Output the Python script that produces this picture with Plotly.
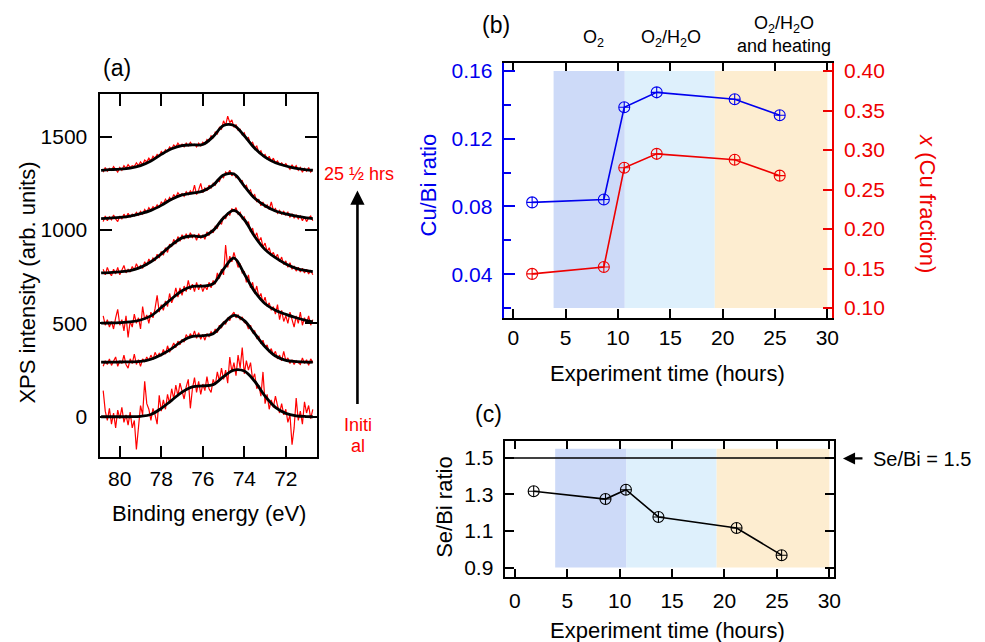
import plotly.graph_objects as go

W, H = 985, 642
FONT = "Liberation Sans, Arial, Helvetica, sans-serif"

# ---------------- Panel (a): XPS spectra ----------------
energy = [80.8, 80.7, 80.6, 80.5, 80.4, 80.3, 80.2, 80.1, 80.0,
          79.9, 79.8, 79.7, 79.6, 79.5, 79.4, 79.3, 79.2, 79.1, 79.0,
          78.9, 78.8, 78.7, 78.6, 78.5, 78.4, 78.3, 78.2, 78.1, 78.0,
          77.9, 77.8, 77.7, 77.6, 77.5, 77.4, 77.3, 77.2, 77.1, 77.0,
          76.9, 76.8, 76.7, 76.6, 76.5, 76.4, 76.3, 76.2, 76.1, 76.0,
          75.9, 75.8, 75.7, 75.6, 75.5, 75.4, 75.3, 75.2, 75.1, 75.0,
          74.9, 74.8, 74.7, 74.6, 74.5, 74.4, 74.3, 74.2, 74.1, 74.0,
          73.9, 73.8, 73.7, 73.6, 73.5, 73.4, 73.3, 73.2, 73.1, 73.0,
          72.9, 72.8, 72.7, 72.6, 72.5, 72.4, 72.3, 72.2, 72.1, 72.0,
          71.9, 71.8, 71.7, 71.6, 71.5, 71.4, 71.3, 71.2, 71.1, 71.0,
          70.9, 70.8, 70.7]

spec_initial = [140, 30, -20, 45, -40, 20, -60, 35, -10,
                50, -30, 10, -45, 25, -60, -20, -175, -40, 60,
                10, 190, 70, 40, -20, 45, 10, -40, 115, 30,
                90, 40, 120, 70, 150, 95, 170, 110, 180, 140,
                95, 160, 200, 45, 150, 210, 130, 190, 120, 175,
                140, 215, 150, 130, 200, 170, 240, 190, 260, 200,
                250, 180, 320, 240, 290, 220, 330, 260, 370, 230,
                300, 250, 290, 200, 230, 150, 170, 110, 240, 70,
                120, 40, 90, 50, 110, 60, 20, 70, 10, 40,
                -30, 10, -150, -60, 100, -20, 30, -40, 80, 20,
                60, -10, 40]
spec_2 = [270, 300, 280, 310, 275, 300, 320, 270, 300,
          285, 330, 280, 260, 310, 285, 335, 280, 305, 270,
          310, 295, 320, 300, 330, 305, 345, 320, 340, 325,
          360, 335, 380, 345, 370, 395, 370, 405, 385, 415,
          400, 440, 420, 445, 425, 460, 420, 450, 415, 440,
          410, 445, 430, 455, 440, 470, 450, 490, 475, 510,
          495, 530, 515, 545, 560, 530, 545, 520, 535, 505,
          500, 470, 490, 450, 460, 420, 430, 390, 410, 370,
          385, 345, 365, 330, 350, 310, 330, 300, 350, 300,
          315, 285, 305, 280, 300, 290, 280, 315, 285, 305,
          275, 310, 290]
spec_3 = [540, 490, 520, 480, 510, 470, 530, 575, 490,
          520, 460, 540, 425, 510, 480, 550, 500, 530, 470,
          590, 520, 545, 500, 560, 530, 580, 650, 560, 600,
          570, 620, 590, 660, 610, 640, 690, 640, 690, 650,
          700, 670, 730, 680, 710, 670, 720, 680, 710, 670,
          700, 680, 720, 690, 730, 710, 770, 740, 790, 760,
          920, 800, 860, 830, 880, 840, 800, 820, 770, 780,
          720, 760, 690, 720, 660, 700, 640, 660, 610, 640,
          590, 610, 570, 590, 550, 600, 520, 570, 510, 540,
          500, 560, 520, 480, 540, 500, 560, 490, 530, 500,
          540, 490, 520]
spec_4 = [790, 760, 800, 770, 755, 790, 765, 800, 760,
          785, 810, 770, 790, 775, 805, 785, 820, 795, 810,
          795, 830, 810, 845, 825, 850, 835, 870, 850, 885,
          865, 905, 880, 925, 910, 950, 925, 965, 940, 975,
          950, 980, 955, 985, 960, 975, 945, 980, 955, 975,
          950, 990, 970, 1000, 985, 1020, 1010, 1045, 1030, 1075,
          1060, 1090, 1080, 1115, 1100, 1120, 1085, 1095, 1060, 1070,
          1030, 1045, 990, 1010, 960, 985, 940, 960, 910, 930,
          885, 905, 865, 880, 850, 870, 830, 855, 815, 835,
          800, 825, 790, 805, 780, 800, 775, 795, 770, 790,
          765, 785, 760]
spec_5 = [1045, 1075, 1050, 1070, 1055, 1080, 1060, 1045, 1075,
          1060, 1085, 1065, 1090, 1070, 1085, 1075, 1095, 1080, 1100,
          1085, 1110, 1095, 1120, 1105, 1125, 1115, 1135, 1120, 1150,
          1140, 1165, 1150, 1175, 1160, 1190, 1175, 1200, 1185, 1195,
          1180, 1205, 1190, 1210, 1195, 1240, 1190, 1215, 1250, 1200,
          1225, 1210, 1240, 1225, 1250, 1240, 1270, 1260, 1290, 1280,
          1310, 1300, 1320, 1290, 1305, 1280, 1285, 1260, 1265, 1230,
          1240, 1205, 1215, 1180, 1190, 1150, 1165, 1130, 1150, 1120,
          1135, 1110, 1150, 1105, 1115, 1090, 1105, 1085, 1100, 1080,
          1095, 1070, 1085, 1065, 1080, 1060, 1075, 1050, 1070, 1045,
          1065, 1075, 1050]
spec_6 = [1310, 1335, 1315, 1330, 1320, 1340, 1325, 1310, 1335,
          1320, 1345, 1330, 1350, 1335, 1345, 1340, 1360, 1345, 1365,
          1350, 1375, 1365, 1385, 1370, 1395, 1385, 1405, 1395, 1420,
          1410, 1430, 1420, 1445, 1435, 1455, 1445, 1465, 1450, 1460,
          1445, 1465, 1450, 1470, 1455, 1460, 1445, 1465, 1450, 1470,
          1460, 1485, 1475, 1505, 1495, 1525, 1515, 1550, 1540, 1585,
          1560, 1610, 1575, 1590, 1550, 1565, 1535, 1540, 1510, 1520,
          1485, 1495, 1460, 1470, 1440, 1450, 1415, 1425, 1395, 1405,
          1380, 1395, 1365, 1385, 1360, 1370, 1350, 1360, 1345, 1355,
          1340, 1325, 1350, 1330, 1345, 1320, 1335, 1310, 1330, 1315,
          1335, 1310, 1325]

fit_energy = [80.9, 80.5, 80.0, 79.5, 79.0, 78.5, 78.0, 77.5, 77.0, 76.5, 76.0,
              75.5, 75.0, 74.5, 74.0, 73.5, 73.0, 72.5, 72.0, 71.5, 71.0, 70.7]
fit_initial = [0, 0, 0, 0, 2, 12, 45, 88, 132, 160, 165,
               172, 215, 250, 245, 190, 110, 50, 18, 5, 1, 0]
fit_2 = [292, 292, 293, 294, 296, 308, 332, 365, 405, 430, 434,
         445, 500, 543, 515, 445, 375, 325, 302, 295, 292, 292]
fit_3 = [501, 502, 504, 508, 518, 540, 585, 632, 675, 698, 700,
         712, 790, 850, 765, 670, 605, 570, 548, 530, 515, 508]
fit_4 = [770, 772, 776, 783, 800, 830, 872, 920, 958, 968, 966,
         998, 1065, 1105, 1055, 965, 895, 852, 818, 795, 782, 777]
fit_5 = [1061, 1064, 1068, 1075, 1088, 1105, 1132, 1165, 1188, 1198, 1208,
         1240, 1295, 1300, 1235, 1170, 1130, 1102, 1086, 1074, 1065, 1061]
fit_6 = [1320, 1323, 1326, 1332, 1345, 1370, 1405, 1435, 1452, 1456, 1458,
         1500, 1560, 1560, 1505, 1438, 1390, 1360, 1343, 1330, 1322, 1320]

spectra = [spec_initial, spec_2, spec_3, spec_4, spec_5, spec_6]
fits = [fit_initial, fit_2, fit_3, fit_4, fit_5, fit_6]

# ---------------- Panels (b) and (c) ----------------
exp_time = [1.8, 8.65, 10.6, 13.7, 21.15, 25.45]
cu_bi_ratio = [0.0824, 0.0841, 0.1386, 0.1474, 0.1433, 0.1339]
cu_fraction = [0.1433, 0.152, 0.2776, 0.2952, 0.2877, 0.2676]
se_bi_ratio = [1.318, 1.275, 1.326, 1.177, 1.117, 0.968]
se_bi_reference = 1.5

period_bounds = [3.85, 10.65, 19.25, 30.0]
period_colors = ["rgb(205,218,248)", "rgb(222,240,252)", "rgb(253,237,208)"]
period_labels = ["O<sub>2</sub>", "O<sub>2</sub>/H<sub>2</sub>O",
                 "O<sub>2</sub>/H<sub>2</sub>O<br>and heating"]

fig = go.Figure()

for s in spectra:
    fig.add_trace(go.Scatter(x=energy, y=s, mode="lines",
                             line=dict(color="#ff0000", width=1.2),
                             xaxis="x", yaxis="y", showlegend=False))
for f in fits:
    fig.add_trace(go.Scatter(x=fit_energy, y=f, mode="lines",
                             line=dict(color="black", width=2.8, shape="spline", smoothing=1.0),
                             xaxis="x", yaxis="y", showlegend=False))

marker_kw = dict(symbol="circle-cross-open", size=11, line=dict(width=1.1))
fig.add_trace(go.Scatter(x=exp_time, y=cu_bi_ratio, mode="lines+markers",
                         line=dict(color="#0000ee", width=1.6),
                         marker=dict(color="#0000ee", **marker_kw),
                         xaxis="x2", yaxis="y2", showlegend=False))
fig.add_trace(go.Scatter(x=exp_time, y=cu_fraction, mode="lines+markers",
                         line=dict(color="#ee0000", width=1.6),
                         marker=dict(color="#ee0000", **marker_kw),
                         xaxis="x2", yaxis="y3", showlegend=False))
fig.add_trace(go.Scatter(x=exp_time, y=se_bi_ratio, mode="lines+markers",
                         line=dict(color="black", width=1.6),
                         marker=dict(color="black", **marker_kw),
                         xaxis="x4", yaxis="y4", showlegend=False))

shapes = []
for i, col in enumerate(period_colors):
    shapes.append(dict(type="rect", xref="x2", yref="y2",
                       x0=period_bounds[i], x1=period_bounds[i + 1], y0=0.02, y1=0.16,
                       fillcolor=col, line=dict(width=0), layer="below"))
    shapes.append(dict(type="rect", xref="x4", yref="y4",
                       x0=period_bounds[i], x1=period_bounds[i + 1], y0=0.9, y1=1.55,
                       fillcolor=col, line=dict(width=0), layer="below"))
shapes.append(dict(type="line", xref="x4 domain", yref="y4", x0=0, x1=1,
                   y0=se_bi_reference, y1=se_bi_reference,
                   line=dict(color="black", width=1.5)))


def px(x):
    return x / W


def py(y):
    return 1 - y / H


tick_font = dict(family=FONT, size=21, color="black")
common = dict(showline=True, linewidth=1.6, linecolor="black", ticks="inside",
              tickcolor="black", tickwidth=1.6, showgrid=False, zeroline=False,
              tickfont=tick_font)

fig.update_layout(
    width=W, height=H, autosize=False,
    margin=dict(l=0, r=0, t=0, b=0),
    paper_bgcolor="white", plot_bgcolor="rgba(0,0,0,0)",
    font=dict(family=FONT, color="black"),
    showlegend=False,
    shapes=shapes,
    xaxis=dict(domain=[px(101), px(319)], range=[80.94, 70.51], anchor="y",
               tickvals=[72, 74, 76, 78, 80], ticklen=12, mirror="ticks",
               ticklabelstandoff=2, **common),
    yaxis=dict(domain=[py(458), py(92)], range=[-218, 1727], anchor="x",
               tickvals=[0, 500, 1000, 1500], ticklen=12, mirror="ticks",
               ticklabelstandoff=7, **common),
    xaxis2=dict(domain=[px(508), px(838)], range=[-0.85, 30.45], anchor="y2",
                tickvals=[0, 5, 10, 15, 20, 25, 30], ticklen=9, mirror="ticks",
                ticklabelstandoff=0, **common),
    yaxis2=dict(domain=[py(317), py(60)], range=[0.0144, 0.165], anchor="x2",
                tickvals=[0.04, 0.08, 0.12, 0.16], ticktext=["0.04", "0.08", "0.12", "0.16"],
                ticklen=11, showline=True, linewidth=1.6, linecolor="#0000ee",
                ticks="inside", tickcolor="#0000ee", tickwidth=1.6, showgrid=False,
                zeroline=False, tickfont=dict(family=FONT, size=21, color="#0000ee"),
                ticklabelstandoff=6,
                minor=dict(tickvals=[0.02, 0.06, 0.10, 0.14], ticks="inside",
                           ticklen=7, tickcolor="#0000ee", tickwidth=1.6)),
    yaxis3=dict(overlaying="y2", side="right", anchor="x2", range=[0.0881, 0.4107],
                tickvals=[0.10, 0.15, 0.20, 0.25, 0.30, 0.35, 0.40],
                ticktext=["0.10", "0.15", "0.20", "0.25", "0.30", "0.35", "0.40"],
                ticklen=9, showline=True, linewidth=1.6, linecolor="#ee0000",
                ticks="inside", tickcolor="#ee0000", tickwidth=1.6, showgrid=False,
                zeroline=False, tickfont=dict(family=FONT, size=21, color="#ee0000"),
                ticklabelstandoff=6),
    xaxis4=dict(domain=[px(509), px(840)], range=[-0.9, 30.45], anchor="y4",
                tickvals=[0, 5, 10, 15, 20, 25, 30], ticklen=9, mirror="ticks",
                ticklabelstandoff=4, **common),
    yaxis4=dict(domain=[py(579), py(441)], range=[0.846, 1.595], anchor="x4",
                tickvals=[0.9, 1.1, 1.3, 1.5], ticklen=9, mirror="ticks",
                ticklabelstandoff=6, **common),
)

ann = []


def add_text(text, x, y, size=22, color="black", angle=0, xanchor="center"):
    ann.append(dict(text=text, x=px(x), y=py(y), xref="paper", yref="paper",
                    showarrow=False, textangle=angle, xanchor=xanchor, yanchor="middle",
                    font=dict(family=FONT, size=size, color=color)))


# panel (a)
add_text("(a)", 118, 66, size=23)
add_text("XPS intensity (arb. units)", 28, 282, size=22, angle=-90)
add_text("Binding energy (eV)", 210, 515, size=22)
add_text("25 ½ hrs", 362, 172, size=18, color="#ff0000")
add_text("Initi", 361, 425, size=18, color="#ff0000")
add_text("al", 361, 446, size=18, color="#ff0000")
ann.append(dict(x=px(360), y=py(189), xref="paper", yref="paper", text="",
                showarrow=True, ax=0, ay=215, axref="pixel", ayref="pixel",
                arrowhead=2, arrowsize=1.1, arrowwidth=2.6, arrowcolor="black"))

# panel (b)
add_text("(b)", 500, 22, size=23)
label_x = [598, 676, 790]
label_y = [36, 36, 32]
for lx, ly, lab in zip(label_x, label_y, period_labels):
    add_text(lab, lx, ly, size=18)
add_text("Cu/Bi ratio", 432, 183, size=22, color="#0000ee", angle=-90)
add_text("<i>x</i> (Cu fraction)", 934, 202, size=22, color="#ee0000", angle=90)
add_text("Experiment time (hours)", 672, 373, size=22)

# panel (c)
add_text("(c)", 492, 414, size=23)
add_text("Se/Bi ratio", 447, 508, size=22, angle=-90)
add_text("Experiment time (hours)", 672, 632, size=22)
add_text("Se/Bi = 1.5", 877, 460, size=20, xanchor="left")
ann.append(dict(x=px(849), y=py(459), xref="paper", yref="paper", text="",
                showarrow=True, ax=21, ay=0, axref="pixel", ayref="pixel",
                arrowhead=2, arrowsize=1.1, arrowwidth=2.2, arrowcolor="black"))

fig.update_layout(annotations=ann)

fig.write_html("out.html")
